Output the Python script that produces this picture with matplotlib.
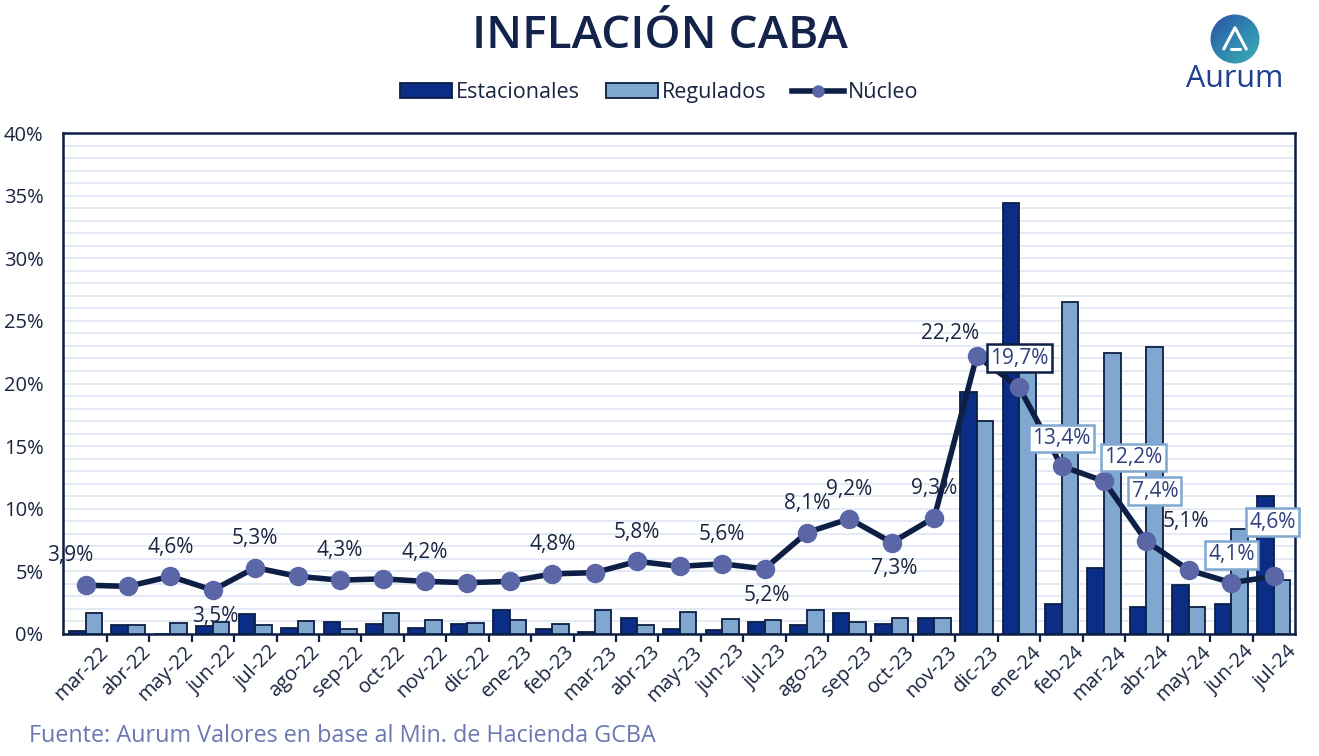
import numpy as np
import matplotlib
matplotlib.use("Agg")
import matplotlib.pyplot as plt
import matplotlib.transforms as mtrans
from matplotlib.patches import Patch, Circle
from matplotlib.lines import Line2D
from matplotlib.colors import LinearSegmentedColormap

months = ["mar-22", "abr-22", "may-22", "jun-22", "jul-22", "ago-22", "sep-22", "oct-22",
          "nov-22", "dic-22", "ene-23", "feb-23", "mar-23", "abr-23", "may-23", "jun-23",
          "jul-23", "ago-23", "sep-23", "oct-23", "nov-23", "dic-23", "ene-24", "feb-24",
          "mar-24", "abr-24", "may-24", "jun-24", "jul-24"]
estacionales = [0.2, 0.7, 0.0, 0.6, 1.6, 0.5, 0.95, 0.8, 0.5, 0.8, 1.9, 0.4, 0.15, 1.25,
                0.4, 0.3, 0.95, 0.7, 1.65, 0.8, 1.25, 19.3, 34.4, 2.4, 5.3, 2.15, 3.9, 2.4, 11.0]
regulados = [1.7, 0.7, 0.85, 0.95, 0.7, 1.05, 0.4, 1.65, 1.15, 0.85, 1.15, 0.8, 1.95, 0.7,
             1.75, 1.2, 1.15, 1.95, 0.95, 1.25, 1.25, 17.0, 21.5, 26.5, 22.4, 22.95, 2.15, 8.4, 4.3]
nucleo = [3.9, 3.8, 4.6, 3.5, 5.3, 4.6, 4.3, 4.4, 4.2, 4.1, 4.2, 4.8, 4.9, 5.8, 5.4, 5.6,
          5.2, 8.1, 9.2, 7.3, 9.3, 22.2, 19.7, 13.4, 12.2, 7.4, 5.1, 4.1, 4.6]

labels_above = [0, 2, 4, 6, 8, 11, 13, 15, 17, 18, 20]
labels_below = [3, 16, 19]

C_EST = "#0b2d86"
C_REG = "#7fa7d0"
C_EDGE = "#0d1f45"
C_LINE = "#0d1f45"
C_MARK = "#5a66a6"
C_TEXT = "#1a2540"
C_BOXTXT = "#2e3f7e"

plt.rcParams['font.family'] = ['Open Sans', 'DejaVu Sans']

fig = plt.figure(figsize=(13.19, 7.56), dpi=100)
ax = fig.add_axes([0.0478, 0.1614, 0.934, 0.6626])

x = np.arange(len(months))
w = 0.39
ax.bar(x - w / 2, estacionales, w, color=C_EST, edgecolor=C_EDGE, linewidth=1.3, zorder=3)
ax.bar(x + w / 2, regulados, w, color=C_REG, edgecolor=C_EDGE, linewidth=1.3, zorder=3)
ax.plot(x, nucleo, color=C_LINE, lw=4, marker='o', markersize=13,
        markerfacecolor=C_MARK, markeredgecolor=C_MARK, zorder=4)

ax.set_xlim(-0.53, 28.5)
ax.set_ylim(0, 40)
ax.set_yticks(np.arange(0, 41, 5))
ax.set_yticklabels([f"{v}%" for v in range(0, 41, 5)])
ax.set_yticks(np.arange(0, 41, 1), minor=True)
ax.grid(axis='y', which='both', color="#e2e8f4", lw=1.3, zorder=0)
ax.tick_params(axis='y', which='both', length=0, labelsize=14.5, labelcolor=C_TEXT, pad=14)

ax.set_xticks(x)
ax.set_xticklabels(months, rotation=45, ha='right', rotation_mode='anchor')
ax.set_xticks(x[:-1] + 0.5, minor=True)
ax.tick_params(axis='x', which='major', length=0, labelsize=14.5, labelcolor=C_TEXT, pad=6)
ax.tick_params(axis='x', which='minor', length=6, width=1.6, color=C_EDGE)
offset = mtrans.ScaledTranslation(9 / 72, 0, fig.dpi_scale_trans)
for lab in ax.get_xticklabels():
    lab.set_transform(lab.get_transform() + offset)

for s in ax.spines.values():
    s.set_color(C_EDGE)
    s.set_linewidth(1.8)

def fmt(v):
    return f"{v:.1f}%".replace(".", ",")

FS = 15
for i in labels_above:
    dx = -11 if i == 0 else 0
    ax.annotate(fmt(nucleo[i]), (x[i], nucleo[i]), xytext=(dx, 21), textcoords='offset points',
                ha='center', va='center', fontsize=FS, color=C_TEXT, zorder=6)
for i in labels_below:
    ax.annotate(fmt(nucleo[i]), (x[i], nucleo[i]), xytext=(2, -19), textcoords='offset points',
                ha='center', va='center', fontsize=FS, color=C_TEXT, zorder=6)
ax.annotate(fmt(nucleo[21]), (x[21], nucleo[21]), xytext=(-19, 16), textcoords='offset points',
            ha='center', va='center', fontsize=FS, color=C_TEXT, zorder=6)
ax.annotate(fmt(nucleo[26]), (x[26], nucleo[26]), xytext=(-2, 35), textcoords='offset points',
            ha='center', va='center', fontsize=FS, color=C_TEXT, zorder=6)

boxed = [(22, 0, 21, C_EDGE), (23, 0, 20, C_REG), (24, 21, 17, C_REG),
         (25, 6, 36, C_REG), (27, 0, 20, C_REG), (28, -1, 39, C_REG)]
for i, dx, dy, ec in boxed:
    ax.annotate(fmt(nucleo[i]), (x[i], nucleo[i]), xytext=(dx, dy), textcoords='offset points',
                ha='center', va='center', fontsize=FS, color=C_BOXTXT, zorder=7,
                bbox=dict(boxstyle='square,pad=0.16', fc='white', ec=ec, lw=1.8))

fig.text(0.5, 0.952, "INFLACIÓN CABA", ha='center', va='center', fontsize=33,
         fontweight='semibold', color="#14234b")

handles = [Patch(facecolor=C_EST, edgecolor=C_EDGE, lw=1.3),
           Patch(facecolor=C_REG, edgecolor=C_EDGE, lw=1.3),
           Line2D([0], [0], color=C_LINE, lw=4, marker='o', markersize=8,
                  markerfacecolor=C_MARK, markeredgecolor=C_MARK)]
fig.legend(handles, ["Estacionales", "Regulados", "Núcleo"], loc='center',
           bbox_to_anchor=(0.5, 0.877), ncol=3, frameon=False, fontsize=15.5,
           labelcolor=C_TEXT, handlelength=2.4, handletextpad=0.2, columnspacing=1.2,
           handleheight=0.7)

fig.text(0.022, 0.027, "Fuente: Aurum Valores en base al Min. de Hacienda GCBA",
         ha='left', va='center', fontsize=16.8, color="#6b78b2")

# logo
lax = fig.add_axes([1210 / 1319, 1 - 64 / 756, 50 / 1319, 50 / 756])
lax.set_xlim(-1, 1)
lax.set_ylim(-1, 1)
lax.axis('off')
gy, gx = np.mgrid[-1:1:200j, -1:1:200j]
grad = (gx - gy + 2) / 4
cm = LinearSegmentedColormap.from_list("lg", ["#2a4fa3", "#2f86b0", "#3fb0b0"])
im = lax.imshow(grad, extent=(-1, 1, -1, 1), cmap=cm, origin='lower')
circ = Circle((0, 0), 0.98, transform=lax.transData)
im.set_clip_path(circ)
lax.plot([-0.45, 0.0, 0.45], [-0.4, 0.45, -0.4], color='white', lw=2.2,
         solid_capstyle='round', solid_joinstyle='round')
lax.plot([-0.15, 0.2], [-0.4, -0.4], color='white', lw=2.2, solid_capstyle='round')
lax.set_aspect('equal')
fig.text(1235 / 1319, 1 - 79 / 756, "Aurum", ha='center', va='center', fontsize=22,
         color="#1f3f8f")

fig.savefig("out.png", dpi=100)
